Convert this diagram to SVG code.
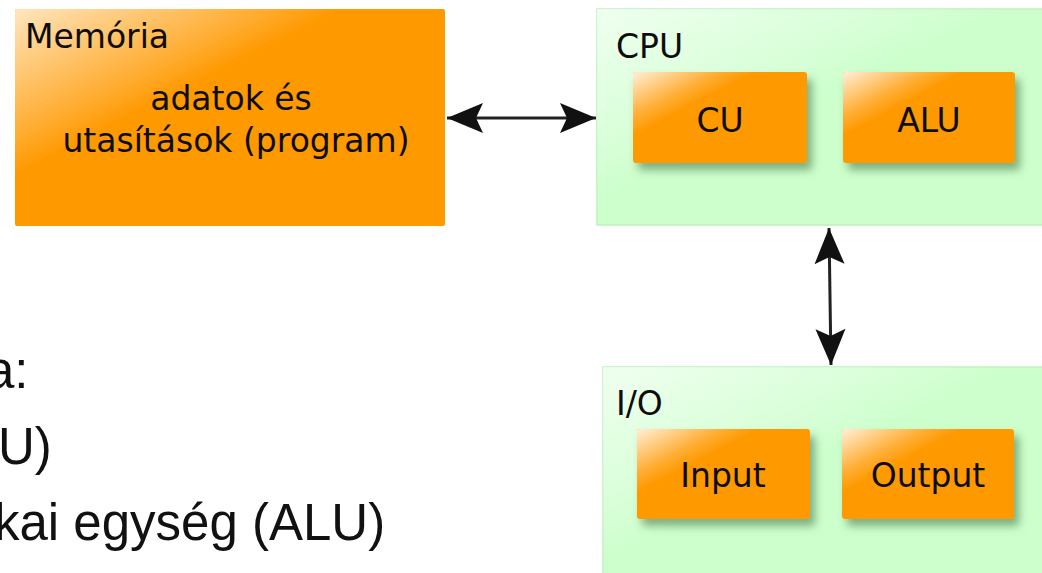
<svg xmlns="http://www.w3.org/2000/svg" width="1042" height="573" viewBox="0 0 1042 573">
<style>
.lbl{font-family:"DejaVu Sans",sans-serif;font-size:33px;fill:#0d0d0d}
.mid{text-anchor:middle}
.big{font-family:"Liberation Sans",Arial,sans-serif;font-size:51px;fill:#111}
.orange{fill:#FF9900}
.green{fill:#CCFFCC;stroke:#BDF2BD;stroke-width:1.5}
.conn{stroke:#222;stroke-width:3;fill:none}
</style>
<defs>
<linearGradient id="glossO" x1="0" y1="0" x2="1" y2="1">
<stop offset="0" stop-color="#fff" stop-opacity="0.75"/>
<stop offset="0.3" stop-color="#fff" stop-opacity="0.18"/>
<stop offset="0.36" stop-color="#fff" stop-opacity="0.05"/>
<stop offset="0.38" stop-color="#fff" stop-opacity="0"/>
</linearGradient>
<linearGradient id="glossS" x1="0" y1="0" x2="1" y2="1">
<stop offset="0" stop-color="#fff" stop-opacity="0.85"/>
<stop offset="0.25" stop-color="#fff" stop-opacity="0.2"/>
<stop offset="0.33" stop-color="#fff" stop-opacity="0.05"/>
<stop offset="0.35" stop-color="#fff" stop-opacity="0"/>
</linearGradient>
<linearGradient id="glossG" x1="0" y1="0" x2="1" y2="1">
<stop offset="0" stop-color="#fff" stop-opacity="0.7"/>
<stop offset="0.35" stop-color="#fff" stop-opacity="0.2"/>
<stop offset="0.45" stop-color="#fff" stop-opacity="0"/>
</linearGradient>
<filter id="shadow" x="-10%" y="-10%" width="130%" height="140%">
<feDropShadow dx="5" dy="7" stdDeviation="4" flood-color="#3c6e3c" flood-opacity="0.55"/>
</filter>
<marker id="head" viewBox="-38 -16 40 32" refX="0" refY="0" markerWidth="40" markerHeight="32" markerUnits="userSpaceOnUse" orient="auto-start-reverse">
<path d="M0,0 L-36,-15 L-29,0 L-36,15 Z" fill="#111"/>
</marker>
</defs>

<g id="memoria">
<rect class="orange" x="15" y="9" width="430" height="217" rx="2"/>
<rect x="15" y="9" width="430" height="217" rx="2" fill="url(#glossO)"/>
<text class="lbl" x="25" y="48">Memória</text>
<text class="lbl mid" x="231" y="110">adatok és</text>
<text class="lbl mid" x="236" y="152">utasítások (program)</text>
</g>

<g id="cpu">
<rect class="green" x="597" y="9" width="460" height="216"/>
<rect x="597" y="9" width="460" height="216" fill="url(#glossG)"/>
<text class="lbl" x="616" y="58">CPU</text>
</g>
<g id="cu">
<rect class="orange" x="633" y="72" width="174" height="91" rx="3" filter="url(#shadow)"/>
<rect x="633" y="72" width="174" height="91" rx="3" fill="url(#glossS)"/>
<text class="lbl mid" x="720" y="132">CU</text>
</g>
<g id="alu">
<rect class="orange" x="843" y="72" width="172" height="91" rx="3" filter="url(#shadow)"/>
<rect x="843" y="72" width="172" height="91" rx="3" fill="url(#glossS)"/>
<text class="lbl mid" x="929" y="132">ALU</text>
</g>

<g id="io">
<rect class="green" x="603" y="367" width="460" height="220"/>
<rect x="603" y="367" width="460" height="220" fill="url(#glossG)"/>
<text class="lbl" x="616" y="415">I/O</text>
</g>
<g id="input">
<rect class="orange" x="637" y="429" width="173" height="90" rx="3" filter="url(#shadow)"/>
<rect x="637" y="429" width="173" height="90" rx="3" fill="url(#glossS)"/>
<text class="lbl mid" x="723" y="487">Input</text>
</g>
<g id="output">
<rect class="orange" x="842" y="429" width="172" height="90" rx="3" filter="url(#shadow)"/>
<rect x="842" y="429" width="172" height="90" rx="3" fill="url(#glossS)"/>
<text class="lbl mid" x="928" y="487">Output</text>
</g>

<g id="connectors">
<line class="conn" x1="447" y1="118" x2="596" y2="118" marker-start="url(#head)" marker-end="url(#head)"/>
<line class="conn" x1="829" y1="228" x2="831" y2="365" marker-start="url(#head)" marker-end="url(#head)"/>
</g>

<g id="text">
<text class="big" x="-14" y="388">a:</text>
<text class="big" x="-2" y="464">U)</text>
<text class="big" x="-6" y="540">kai egység (ALU)</text>
</g>
</svg>
